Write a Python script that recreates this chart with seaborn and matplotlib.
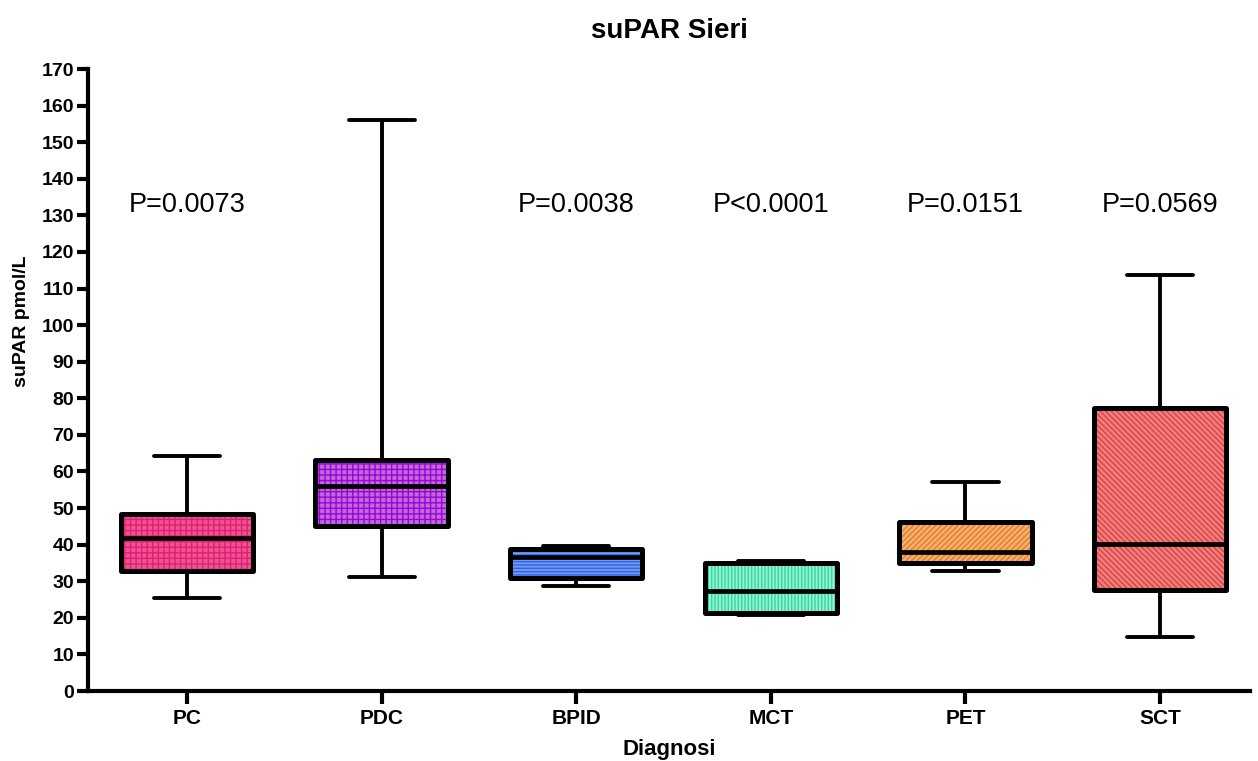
"""Box plot of serum suPAR by diagnosis (GraphPad-style figure)."""

import matplotlib
matplotlib.use("Agg")
import matplotlib.pyplot as plt
import pandas as pd
import seaborn as sns
from matplotlib.patches import PathPatch

GROUPS = ["PC", "PDC", "BPID", "MCT", "PET", "SCT"]

# five-number summaries: min, Q1, median, Q3, max (pmol/L)
PC = [25.4, 32.8, 41.7, 48.3, 64.2]
PDC = [31.2, 45.1, 56.0, 63.0, 156.1]
BPID = [28.7, 30.8, 36.6, 38.8, 39.5]
MCT = [20.8, 21.3, 27.3, 35.0, 35.5]
PET = [32.8, 35.0, 38.0, 46.1, 57.2]
SCT = [14.8, 27.6, 40.2, 77.3, 113.6]

P_VALUES = ["P=0.0073", "", "P=0.0038", "P<0.0001", "P=0.0151", "P=0.0569"]
P_TEXT_Y = 131

FILLS = ["#ff3f8f", "#c35ee2", "#5b96ff", "#8affda", "#ffb264", "#ff6e6e"]
HATCH_COLORS = ["#e81c72", "#a000e0", "#2f62f0", "#2fd9a2", "#f07a18", "#e04040"]
HATCHES = ["+++", "+++", "-----", "|||||", "//////", "\\\\\\\\\\\\"]

sns.set_style("ticks")
plt.rcParams["font.family"] = ["Liberation Sans", "DejaVu Sans"]
plt.rcParams["hatch.linewidth"] = 1.0
for key in ["text.color", "axes.labelcolor", "axes.edgecolor", "xtick.color", "ytick.color"]:
    plt.rcParams[key] = "black"

values = [PC, PDC, BPID, MCT, PET, SCT]
df = pd.DataFrame({
    "Diagnosi": [g for g, v in zip(GROUPS, values) for _ in v],
    "suPAR": [x for v in values for x in v],
})

fig = plt.figure(figsize=(12.58, 7.61), dpi=100)
ax = fig.add_axes([88 / 1258, 1 - 691 / 761, 1162 / 1258, 622 / 761])

sns.boxplot(data=df, x="Diagnosi", y="suPAR", order=GROUPS, hue="Diagnosi",
            hue_order=GROUPS, palette=FILLS, legend=False, whis=(0, 100),
            showfliers=False, width=0.68, linecolor="black", linewidth=2.8,
            medianprops={"linewidth": 3.4}, ax=ax)

# hatch each box in its own darker shade, then redraw a black outline on top
boxes = [p for p in ax.patches if isinstance(p, PathPatch)]
for patch, hatch, hcol in zip(boxes, HATCHES, HATCH_COLORS):
    patch.set_hatch(hatch)
    patch.set_edgecolor(hcol)
    patch.set_linewidth(0)
    ax.add_patch(PathPatch(patch.get_path(), transform=patch.get_transform(),
                           facecolor="none", edgecolor="black", linewidth=3.6,
                           joinstyle="round", zorder=patch.get_zorder() + 0.5))

for i, label in enumerate(P_VALUES):
    if label:
        ax.text(i, P_TEXT_Y, label, ha="center", va="baseline", fontsize=19.5)

ax.set_xlim(-0.509, 5.462)
ax.set_ylim(0, 170)
ax.set_yticks(range(0, 171, 10))
sns.despine(ax=ax)
for side in ["left", "bottom"]:
    ax.spines[side].set_linewidth(3)
ax.tick_params(axis="y", length=8, width=3, labelsize=14, pad=2)
ax.tick_params(axis="x", length=9, width=3, labelsize=15, pad=4)
for lab in ax.get_xticklabels() + ax.get_yticklabels():
    lab.set_fontweight("bold")

ax.set_xlabel("Diagnosi", fontsize=16, fontweight="bold", labelpad=8)
ax.set_ylabel("suPAR pmol/L", fontsize=14, fontweight="bold")
ax.yaxis.set_label_coords(-0.05, 0.595)
ax.set_title("suPAR Sieri", fontsize=20, fontweight="bold", pad=22)

fig.savefig("out.png", dpi=100)
